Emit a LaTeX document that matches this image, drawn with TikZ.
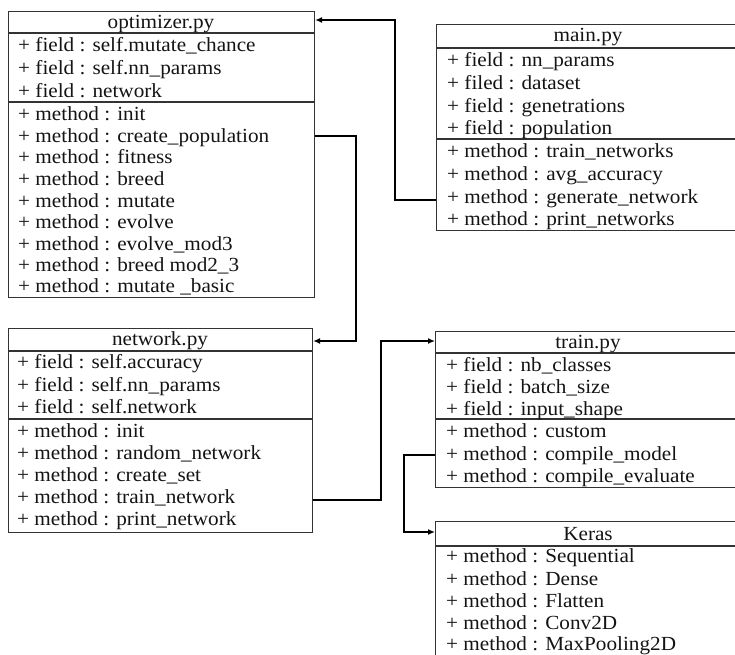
\documentclass[tikz,border=0pt]{standalone}
\usepackage{fontspec}
\setmainfont[FakeStretch=1.06]{Liberation Serif}
\usetikzlibrary{arrows.meta}
\definecolor{boxc}{HTML}{333333}
\definecolor{txtc}{HTML}{141414}
\begin{document}
\begin{tikzpicture}[x=1pt,y=-1pt,
  box/.style={draw=boxc, line width=1.1pt, rectangle, inner sep=0pt, anchor=north west},
  sep/.style={draw=boxc, line width=1.1pt},
  row/.style={anchor=base west, inner sep=0pt, font=\fontsize{20}{22}\selectfont, text=txtc},
  ttl/.style={anchor=base, inner sep=0pt, font=\fontsize{20}{22}\selectfont, text=txtc},
  conn/.style={line width=2.2pt, draw=black, -{Latex[length=7pt,width=6pt]}},
]
\useasboundingbox (0,0) rectangle (735,654);
\fill[white] (0,0) rectangle (735,654);
\clip (0,0) rectangle (735,654);

% ---------- optimizer.py ----------
\node[box, minimum width=306pt, minimum height=286pt] (opt) at (8,11) {};
\draw[sep] (opt.west |- 0,33) -- (opt.east |- 0,33);
\draw[sep] (opt.west |- 0,102) -- (opt.east |- 0,102);
\node[ttl] (opt-t) at (161,28) {optimizer.py};
\node[row] (opt-f1) at (18,51) {+ field : self.mutate\_chance};
\node[row] (opt-f2) at (18,74) {+ field : self.nn\_params};
\node[row] (opt-f3) at (18,97) {+ field : network};
\node[row] (opt-m1) at (18,120) {+ method : init};
\node[row] (opt-m2) at (18,142) {+ method : create\_population};
\node[row] (opt-m3) at (18,163) {+ method : fitness};
\node[row] (opt-m4) at (18,185) {+ method : breed};
\node[row] (opt-m5) at (18,207) {+ method : mutate};
\node[row] (opt-m6) at (18,228) {+ method : evolve};
\node[row] (opt-m7) at (18,250) {+ method : evolve\_mod3};
\node[row] (opt-m8) at (18,271) {+ method : breed mod2\_3};
\node[row] (opt-m9) at (18,292) {+ method : mutate \_basic};

% ---------- main.py ----------
\node[box, minimum width=304pt, minimum height=206pt] (main) at (436,24) {};
\draw[sep] (main.west |- 0,48) -- (main.east |- 0,48);
\draw[sep] (main.west |- 0,139) -- (main.east |- 0,139);
\node[ttl] (main-t) at (588,41) {main.py};
\node[row] (main-f1) at (447,66) {+ field : nn\_params};
\node[row] (main-f2) at (447,89) {+ filed : dataset};
\node[row] (main-f3) at (447,112) {+ field : genetrations};
\node[row] (main-f4) at (447,134) {+ field : population};
\node[row] (main-m1) at (447,157) {+ method : train\_networks};
\node[row] (main-m2) at (447,180) {+ method : avg\_accuracy};
\node[row] (main-m3) at (447,203) {+ method : generate\_network};
\node[row] (main-m4) at (447,225) {+ method : print\_networks};

% ---------- network.py ----------
\node[box, minimum width=304pt, minimum height=204pt] (net) at (8,328) {};
\draw[sep] (net.west |- 0,351) -- (net.east |- 0,351);
\draw[sep] (net.west |- 0,419) -- (net.east |- 0,419);
\node[ttl] (net-t) at (160,345) {network.py};
\node[row] (net-f1) at (17,368) {+ field : self.accuracy};
\node[row] (net-f2) at (17,391) {+ field : self.nn\_params};
\node[row] (net-f3) at (17,413) {+ field : self.network};
\node[row] (net-m1) at (17,437) {+ method : init};
\node[row] (net-m2) at (17,459) {+ method : random\_network};
\node[row] (net-m3) at (17,481) {+ method : create\_set};
\node[row] (net-m4) at (17,503) {+ method : train\_network};
\node[row] (net-m5) at (17,525) {+ method : print\_network};

% ---------- train.py ----------
\node[box, minimum width=305pt, minimum height=156pt] (train) at (435,331) {};
\draw[sep] (train.west |- 0,353) -- (train.east |- 0,353);
\draw[sep] (train.west |- 0,419) -- (train.east |- 0,419);
\node[ttl] (train-t) at (588,348) {train.py};
\node[row] (train-f1) at (446,371) {+ field : nb\_classes};
\node[row] (train-f2) at (446,393) {+ field : batch\_size};
\node[row] (train-f3) at (446,415) {+ field : input\_shape};
\node[row] (train-m1) at (446,437) {+ method : custom};
\node[row] (train-m2) at (446,460) {+ method : compile\_model};
\node[row] (train-m3) at (446,482) {+ method : compile\_evaluate};

% ---------- Keras ----------
\node[box, minimum width=305pt, minimum height=160pt] (keras) at (435,521) {};
\draw[sep] (keras.west |- 0,546) -- (keras.east |- 0,546);
\node[ttl] (keras-t) at (588,540) {Keras};
\node[row] (keras-m1) at (446,562) {+ method : Sequential};
\node[row] (keras-m2) at (446,585) {+ method : Dense};
\node[row] (keras-m3) at (446,607) {+ method : Flatten};
\node[row] (keras-m4) at (446,629) {+ method : Conv2D};
\node[row] (keras-m5) at (446,650) {+ method : MaxPooling2D};

% ---------- connectors ----------
\coordinate (b1) at (395,200);
\coordinate (b1t) at (395,20);
\draw[conn] (main.west |- b1) -- (b1) -- (b1t) -- (opt.east |- b1t);

\coordinate (b2) at (356,136);
\coordinate (b2b) at (356,341);
\draw[conn] (opt.east |- b2) -- (b2) -- (b2b) -- (net.east |- b2b);

\coordinate (b3) at (381,500);
\coordinate (b3t) at (381,341);
\draw[conn] (net.east |- b3) -- (b3) -- (b3t) -- (train.west |- b3t);

\coordinate (b4) at (404,455);
\coordinate (b4b) at (404,532);
\draw[conn] (train.west |- b4) -- (b4) -- (b4b) -- (keras.west |- b4b);
\end{tikzpicture}
\end{document}
